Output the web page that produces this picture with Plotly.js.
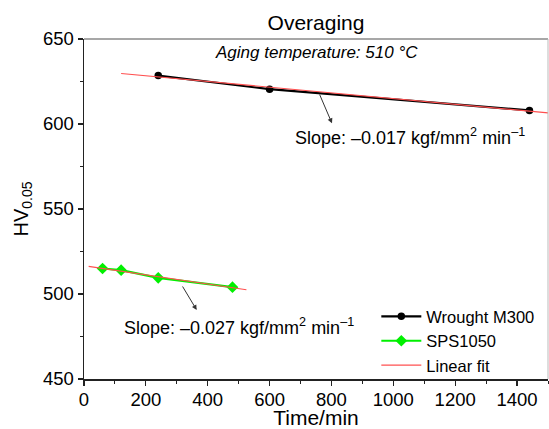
<!DOCTYPE html>
<html>
<head>
<meta charset="utf-8">
<script src="https://cdn.plot.ly/plotly-3.0.1.min.js"></script>
<style>html,body{margin:0;padding:0;background:#fff;}#chart{width:549px;height:429px;}</style>
</head>
<body>
<div id="chart"></div>
<script>
// ---- data ----
const wroughtTime = [240, 600, 1440];
const wroughtHV = [628.5, 620.5, 608];
const spsTime = [60, 120, 240, 480];
const spsHV = [515, 514, 509.5, 504];
const wroughtFitTime = [120, 1500];
const wroughtFitHV = [629.7, 606.6];
const spsFitTime = [15, 525];
const spsFitHV = [516.3, 502.5];
const xTicks = [0, 200, 400, 600, 800, 1000, 1200, 1400];
const yTicks = [450, 500, 550, 600, 650];
const seriesNames = ['Wrought M300', 'SPS1050', 'Linear fit'];
const slopeLabels = ['Slope: \u20130.017 kgf/mm<sup>2</sup> min<sup>\u20131</sup>',
                     'Slope: \u20130.027 kgf/mm<sup>2</sup> min<sup>\u20131</sup>'];

const FONT = 'Liberation Sans, Arial, Helvetica, sans-serif';
const AX = '#222';

const traces = [
  {x: wroughtTime, y: wroughtHV, name: seriesNames[0], type: 'scatter', mode: 'lines+markers',
   line: {color: '#000', width: 2.2}, marker: {symbol: 'circle', size: 7.5, color: '#000'}},
  {x: spsTime, y: spsHV, name: seriesNames[1], type: 'scatter', mode: 'lines+markers',
   line: {color: '#00f000', width: 2.2}, marker: {symbol: 'diamond', size: 9, color: '#00f000'}},
  {x: wroughtFitTime, y: wroughtFitHV, name: seriesNames[2], type: 'scatter', mode: 'lines',
   legendgroup: 'fit', line: {color: 'rgb(255,80,80)', width: 1.2}},
  {x: spsFitTime, y: spsFitHV, name: seriesNames[2], type: 'scatter', mode: 'lines',
   legendgroup: 'fit', showlegend: false, line: {color: 'rgb(255,80,80)', width: 1.2}}
];

const layout = {
  width: 549, height: 429,
  margin: {l: 84, r: 1, t: 39, b: 50, pad: 0},
  paper_bgcolor: '#fff', plot_bgcolor: '#fff',
  font: {family: FONT, color: '#000', size: 18},
  showlegend: true,
  title: {text: 'Overaging', font: {size: 21, family: FONT, color: '#000'},
          x: 0.5, xref: 'paper', xanchor: 'center', y: 0.948, yref: 'container', yanchor: 'middle'},
  xaxis: {
    range: [0, 1500], tickvals: xTicks, ticktext: xTicks.map(String),
    ticks: 'outside', ticklen: 5, tickwidth: 1.2, tickcolor: AX,
    showline: true, linecolor: AX, linewidth: 1.5, showgrid: false, zeroline: false,
    tickfont: {size: 18.5, family: FONT, color: '#000'},
    ticklabelstandoff: -2,
    minor: {dtick: 100, tick0: 0, ticks: 'outside', ticklen: 3, tickwidth: 1, tickcolor: AX, showgrid: false},
    title: {text: 'Time/min', font: {size: 21, family: FONT, color: '#000'}, standoff: 8},
    automargin: false
  },
  yaxis: {
    range: [450, 650], tickvals: yTicks, ticktext: yTicks.map(String),
    ticks: 'outside', ticklen: 5, tickwidth: 1.2, tickcolor: AX,
    showline: true, linecolor: AX, linewidth: 1.5, showgrid: false, zeroline: false,
    tickfont: {size: 18.5, family: FONT, color: '#000'},
    minor: {dtick: 25, tick0: 450, ticks: 'outside', ticklen: 3, tickwidth: 1, tickcolor: AX, showgrid: false},
    title: {text: 'HV<sub>0.05</sub>', font: {size: 20, family: FONT, color: '#000'}, standoff: 9},
    automargin: false
  },
  legend: {
    x: 0.63, xanchor: 'left', y: -0.012, yanchor: 'bottom',
    bgcolor: 'rgba(0,0,0,0)', borderwidth: 0,
    font: {size: 16.5, family: FONT, color: '#000'},
    itemwidth: 40, tracegroupgap: 0
  },
  shapes: [
    {type: 'line', xref: 'paper', yref: 'paper', x0: 0, x1: 1, y0: 1, y1: 1, line: {color: '#8a8a8a', width: 1.5}},
    {type: 'line', xref: 'paper', yref: 'paper', x0: 1, x1: 1, y0: 0, y1: 1, line: {color: '#bbbbbb', width: 1}}
  ],
  annotations: [
    {text: '<i>Aging temperature: 510 \u00b0C</i>', xref: 'paper', yref: 'paper', x: 0.502, y: 0.959,
     xanchor: 'center', yanchor: 'middle', showarrow: false, font: {size: 17, family: FONT, color: '#000'}},
    {text: slopeLabels[0], xref: 'paper', yref: 'paper', x: 0.7026, y: 0.713,
     xanchor: 'center', yanchor: 'middle', showarrow: false, font: {size: 18, family: FONT, color: '#000'}},
    {text: slopeLabels[1], xref: 'paper', yref: 'paper', x: 0.334, y: 0.154,
     xanchor: 'center', yanchor: 'middle', showarrow: false, font: {size: 18, family: FONT, color: '#000'}},
    {text: '', xref: 'x', yref: 'y', x: 801.7, y: 600.4, axref: 'x', ayref: 'y', ax: 759.7, ay: 618.2,
     showarrow: true, arrowhead: 2, arrowsize: 1, arrowwidth: 1, arrowcolor: '#333'},
    {text: '', xref: 'x', yref: 'y', x: 364.3, y: 490.6, axref: 'x', ayref: 'y', ax: 315.8, ay: 505.3,
     showarrow: true, arrowhead: 2, arrowsize: 1, arrowwidth: 1, arrowcolor: '#333'}
  ]
};

Plotly.newPlot('chart', traces, layout, {staticPlot: true, displayModeBar: false});
</script>
</body>
</html>
